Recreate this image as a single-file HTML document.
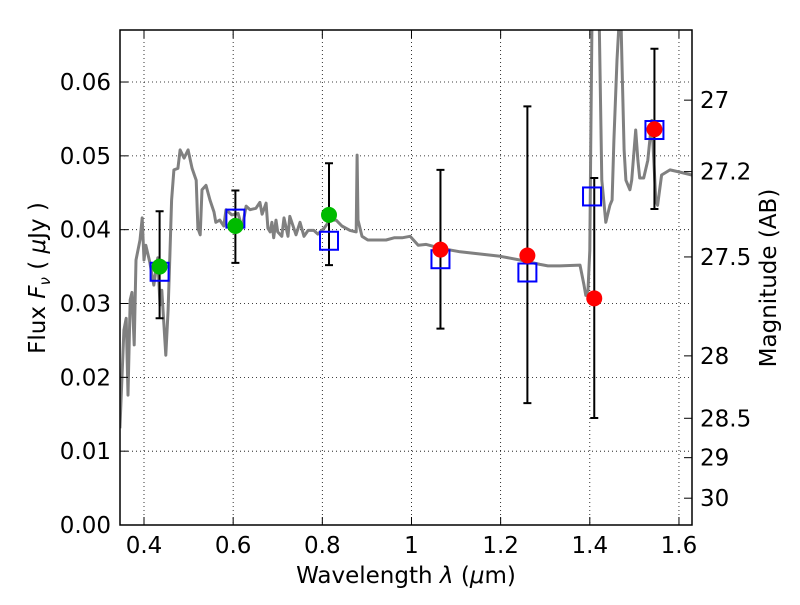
<!DOCTYPE html>
<html><head><meta charset="utf-8"><style>
body{margin:0;background:#fff;}
svg text{font-family:"DejaVu Sans","Liberation Sans",sans-serif;}
</style></head><body>
<svg id="chart" width="800" height="600" xmlns="http://www.w3.org/2000/svg">
<rect width="800" height="600" fill="#fff"/>
<defs><clipPath id="clip"><rect x="120" y="30" width="572" height="495"/></clipPath></defs>
<g id="grid"></g>
<g id="spec" clip-path="url(#clip)"></g>
<g id="marks" clip-path="url(#clip)"></g>
<rect x="120" y="30" width="572" height="495" fill="none" stroke="#000" stroke-width="1.5"/>
<g id="axes"></g>
<text x="406" y="583" font-size="23" text-anchor="middle">Wavelength  <tspan font-style="italic">λ</tspan> (<tspan font-style="italic">μ</tspan>m)</text>
<text transform="translate(45,278) rotate(-90)" font-size="23" text-anchor="middle">Flux  <tspan font-style="italic">F<tspan font-size="15" dy="5">ν</tspan></tspan><tspan dy="-5">  ( </tspan><tspan font-style="italic">μ</tspan>Jy )</text>
<text transform="translate(776,278) rotate(-90)" font-size="23" text-anchor="middle">Magnitude (AB)</text>
</svg>
<script>
const specWave=[0.346,0.355,0.360,0.364,0.369,0.373,0.378,0.382,0.391,0.396,0.400,0.404,0.413,0.422,0.431,0.436,0.440,0.449,0.454,0.458,0.462,0.467,0.476,0.481,0.490,0.499,0.508,0.517,0.521,0.526,0.530,0.539,0.548,0.557,0.561,0.570,0.579,0.584,0.597,0.611,0.620,0.629,0.638,0.651,0.660,0.665,0.674,0.678,0.683,0.687,0.691,0.696,0.700,0.709,0.714,0.723,0.727,0.736,0.741,0.750,0.759,0.768,0.781,0.790,0.804,0.817,0.831,0.844,0.862,0.876,0.878,0.880,0.889,0.902,0.925,0.943,0.961,0.979,0.997,1.015,1.033,1.064,1.109,1.154,1.199,1.243,1.288,1.306,1.333,1.378,1.387,1.391,1.396,1.400,1.402,1.405,1.421,1.427,1.436,1.445,1.450,1.454,1.461,1.466,1.470,1.472,1.477,1.481,1.490,1.494,1.503,1.508,1.512,1.521,1.530,1.539,1.548,1.552,1.561,1.580,1.602,1.629];
const specFlux=[0.0131,0.0264,0.0280,0.0176,0.0305,0.0315,0.0244,0.0359,0.0386,0.0416,0.0359,0.0379,0.0356,0.0325,0.0362,0.0298,0.0318,0.0230,0.0291,0.0366,0.0440,0.0481,0.0483,0.0508,0.0497,0.0508,0.0483,0.0467,0.0402,0.0393,0.0454,0.0460,0.0440,0.0424,0.0410,0.0413,0.0405,0.0427,0.0420,0.0422,0.0402,0.0432,0.0427,0.0429,0.0437,0.0421,0.0436,0.0402,0.0397,0.0410,0.0389,0.0413,0.0397,0.0391,0.0416,0.0391,0.0418,0.0402,0.0393,0.0410,0.0391,0.0399,0.0399,0.0394,0.0402,0.0413,0.0413,0.0405,0.0399,0.0397,0.0501,0.0413,0.0391,0.0386,0.0386,0.0386,0.0389,0.0389,0.0391,0.0379,0.0380,0.0375,0.0370,0.0367,0.0364,0.0359,0.0353,0.0351,0.0351,0.0352,0.0325,0.0311,0.0318,0.0372,0.0508,0.0684,0.0684,0.0467,0.0410,0.0433,0.0440,0.0521,0.0630,0.0684,0.0684,0.0630,0.0508,0.0467,0.0454,0.0467,0.0535,0.0494,0.0470,0.0470,0.0494,0.0548,0.0440,0.0433,0.0474,0.0481,0.0478,0.0474];
const obsWave=[0.435,0.605,0.815,1.065,1.26,1.41,1.545];
const obsFlux=[0.0350,0.0405,0.0420,0.0373,0.0365,0.0307,0.0536];
const obsLow=[0.0280,0.0355,0.0352,0.0266,0.0165,0.0145,0.0428];
const obsHigh=[0.0425,0.0453,0.0490,0.0481,0.0567,0.0470,0.0645];
const obsColor=["#00bb00","#00bb00","#00bb00","#ff0000","#ff0000","#ff0000","#ff0000"];
const modelWave=[0.435,0.605,0.815,1.065,1.26,1.405,1.545];
const modelFlux=[0.0343,0.0415,0.0385,0.0360,0.0342,0.0445,0.0535];
const xTicks=[0.4,0.6,0.8,1.0,1.2,1.4,1.6];
const xTickLabels=["0.4","0.6","0.8","1","1.2","1.4","1.6"];
const yTicks=[0,0.01,0.02,0.03,0.04,0.05,0.06];
const yTickLabels=["0.00","0.01","0.02","0.03","0.04","0.05","0.06"];
const magTicks=[27,27.2,27.5,28,28.5,29,30];
const magTickLabels=["27","27.2","27.5","28","28.5","29","30"];

const X=v=>144+(v-0.4)*445.8;
const Y=v=>525-v*7383;
const NS="http://www.w3.org/2000/svg";
function mk(tag,attrs,parent){const e=document.createElementNS(NS,tag);for(const k in attrs)e.setAttribute(k,attrs[k]);parent.appendChild(e);return e;}
const grid=document.getElementById('grid'),axes=document.getElementById('axes'),spec=document.getElementById('spec'),marks=document.getElementById('marks');

xTicks.forEach((t,i)=>{
 const x=X(t);
 const g=mk('line',{x1:x,x2:x,y1:30,y2:525,stroke:'#000','stroke-width':0.8,'stroke-dasharray':'1,3'},grid);
 
 
 const a=mk('line',{x1:x,x2:x,y1:525,y2:517,stroke:'#000'},axes);
 
 
 const b=mk('line',{x1:x,x2:x,y1:30,y2:38,stroke:'#000'},axes);
 
 
 const l=mk('text',{x:x,y:553,'font-size':23,'text-anchor':'middle'},axes);
 l.textContent=xTickLabels[i];
 
 
});
yTicks.forEach((t,i)=>{
 const y=Y(t);
 const g=mk('line',{x1:120,x2:692,y1:y,y2:y,stroke:'#000','stroke-width':0.8,'stroke-dasharray':'1,3'},grid);
 
 
 const a=mk('line',{x1:120,x2:128,y1:y,y2:y,stroke:'#000'},axes);
 
 
 const l=mk('text',{x:111,y:y+8,'font-size':23,'text-anchor':'end'},axes);
 l.textContent=yTickLabels[i];
 
 
});
magTicks.forEach((m,i)=>{
 const y=Y(Math.pow(10,(23.9-m)/2.5));
 const a=mk('line',{x1:684,x2:692,y1:y,y2:y,stroke:'#000'},axes);
 
 
 const l=mk('text',{x:700,y:y+8,'font-size':23},axes);
 l.textContent=magTickLabels[i];
 
 
});
const pts=specWave.map((w,i)=>X(w).toFixed(1)+','+Y(specFlux[i]).toFixed(1)).join(' ');
const pl=mk('polyline',{points:pts,fill:'none',stroke:'#808080','stroke-width':3,'stroke-linejoin':'round'},spec);


obsWave.forEach((w,i)=>{
 const x=X(w),y1=Y(obsLow[i]),y2=Y(obsHigh[i]);
 const e=mk('path',{d:`M${x},${y1}V${y2}M${x-4},${y1}H${x+4}M${x-4},${y2}H${x+4}`,stroke:'#000','stroke-width':2,fill:'none'},marks);
 
 
});
modelWave.forEach((w,i)=>{
 const s=mk('rect',{x:X(w)-9,y:Y(modelFlux[i])-9,width:18,height:18,fill:'none',stroke:'#0000ff','stroke-width':2},marks);
 
 
});
obsWave.forEach((w,i)=>{
 const c=mk('circle',{cx:X(w),cy:Y(obsFlux[i]),r:8,fill:obsColor[i]},marks);
 
 
});
</script>
</body></html>
